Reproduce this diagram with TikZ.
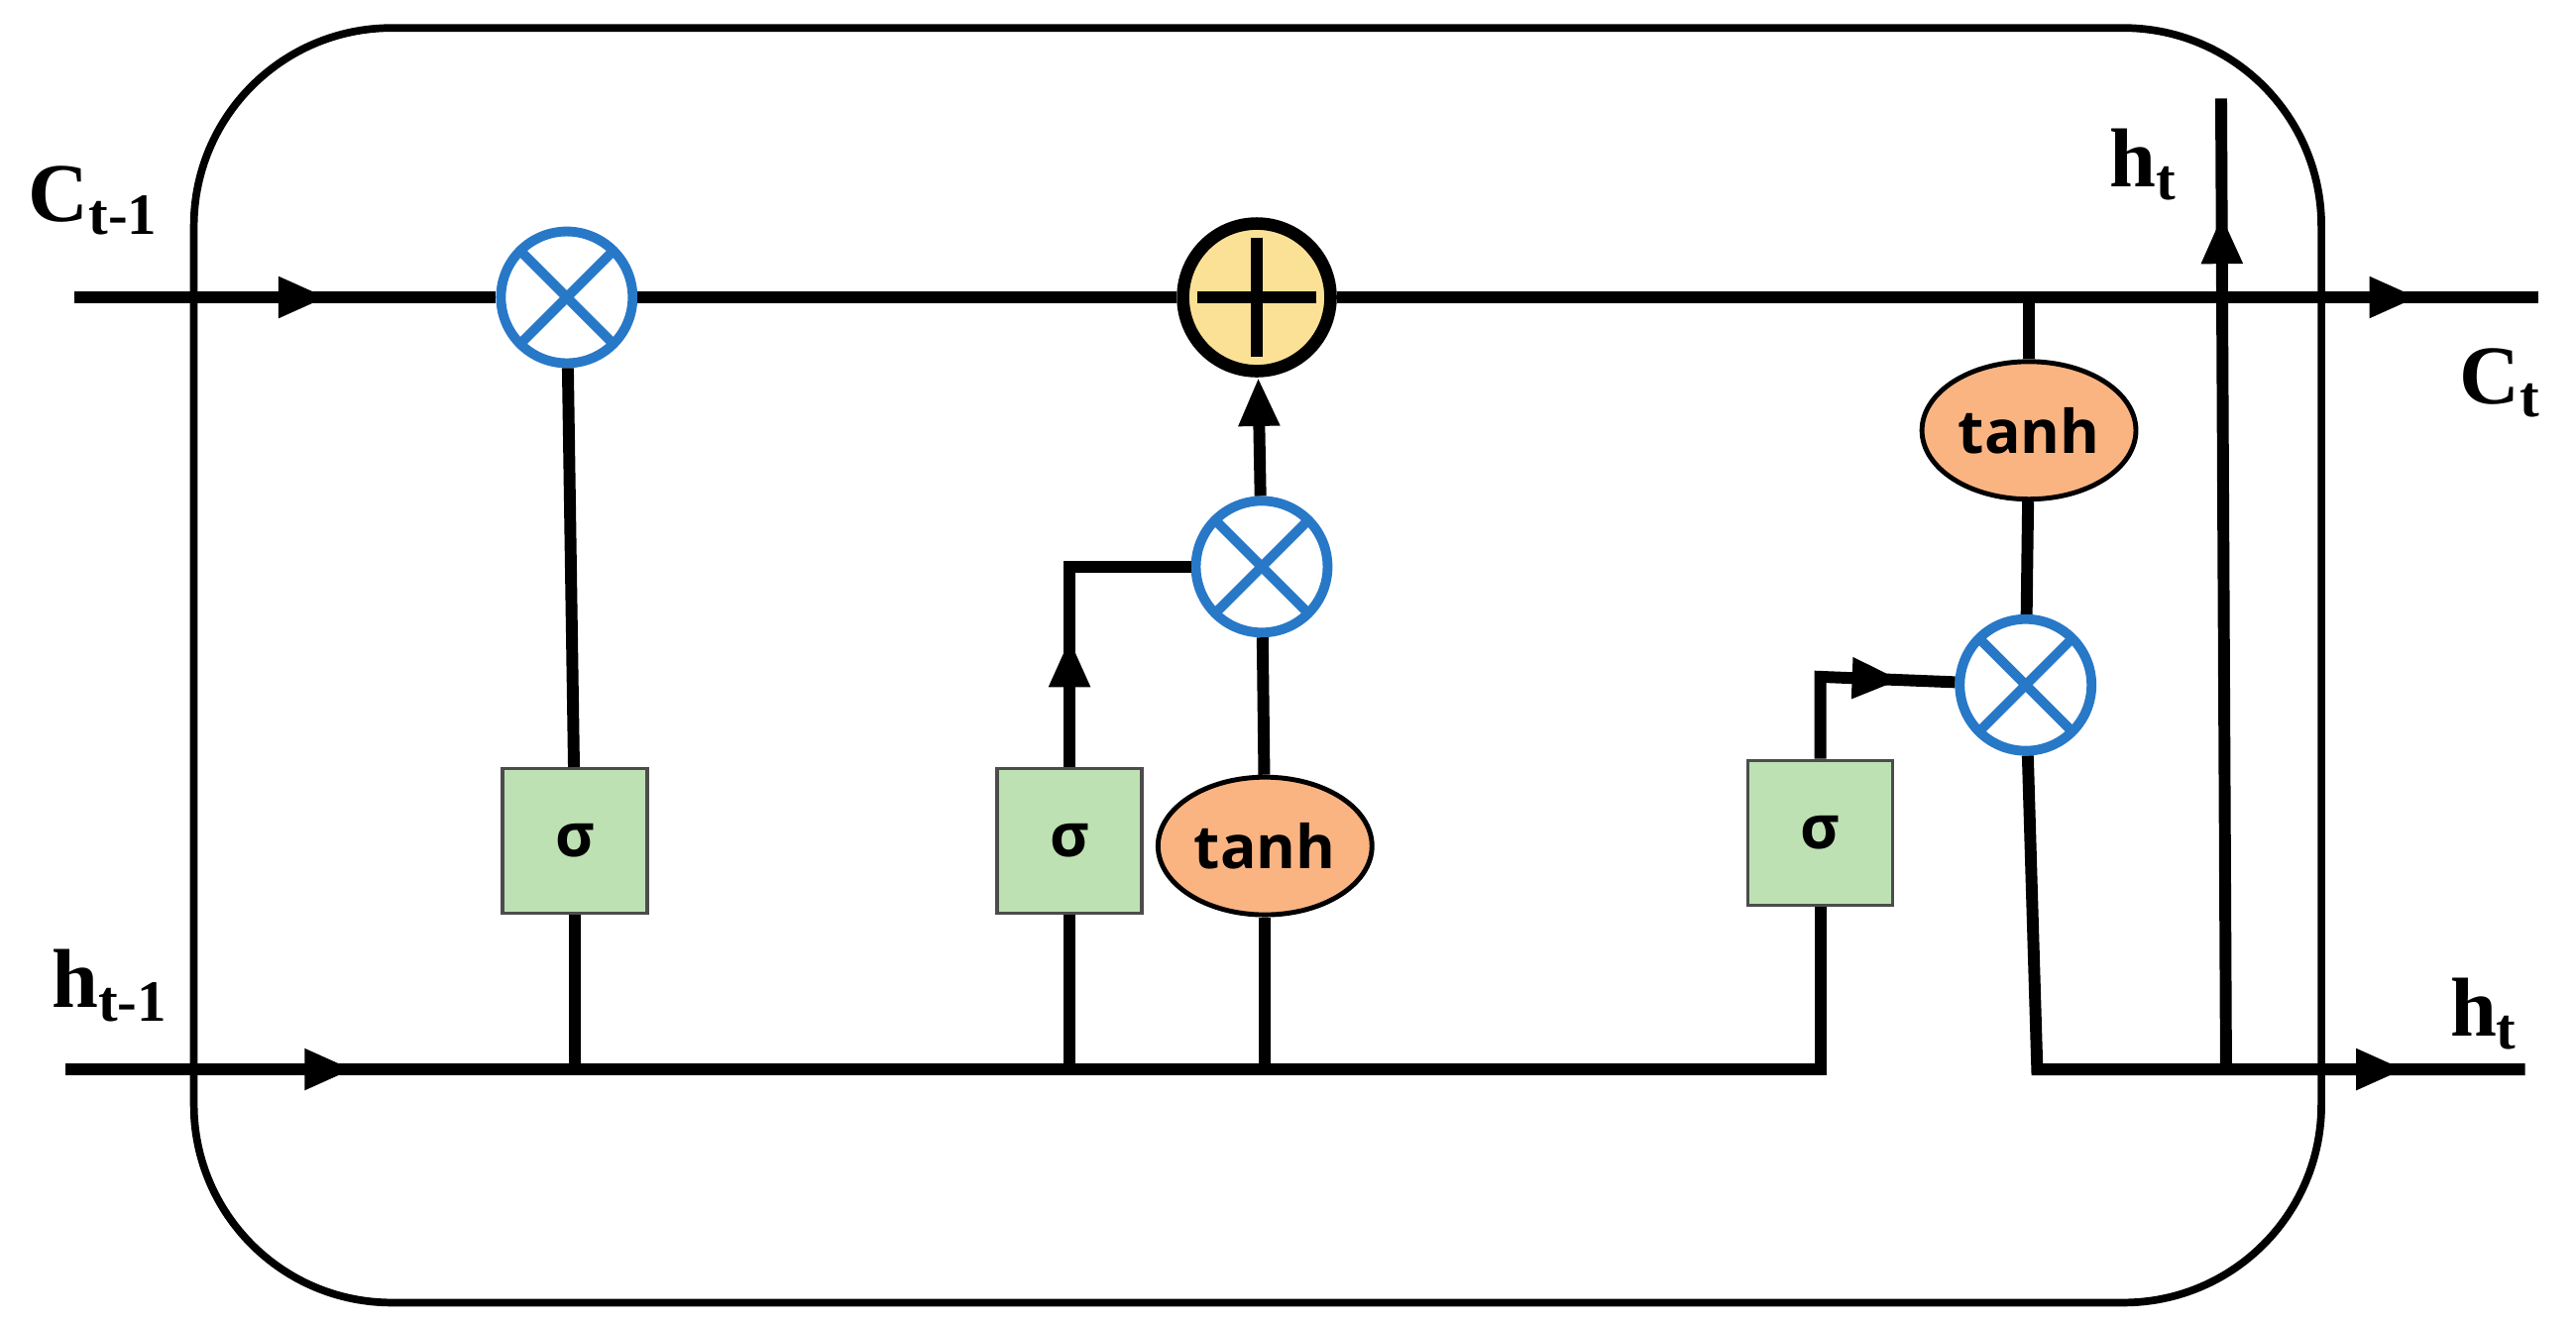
\documentclass[tikz,border=0pt]{standalone}
\usepackage{fontspec}
\setmainfont{Liberation Serif}
\newfontfamily\gatefont{Open Sans}
\usetikzlibrary{decorations.markings,arrows.meta,shapes.geometric}
\definecolor{gateblue}{RGB}{40,120,200}
\definecolor{boxgreen}{RGB}{190,225,180}
\definecolor{tanhorange}{RGB}{250,180,130}
\definecolor{plusyellow}{RGB}{250,225,150}
\begin{document}
\begin{tikzpicture}[x=0.01658cm, y=-0.01658cm, line width=3.4pt,
  >={Triangle[length=14pt,width=11pt]},
  mult/.style={circle, draw=gateblue, line width=2.8pt, fill=white, minimum size=1.33cm, inner sep=0pt,
    path picture={\draw[gateblue, line width=2.8pt] (path picture bounding box.north west) -- (path picture bounding box.south east)
      (path picture bounding box.north east) -- (path picture bounding box.south west);}},
  plusop/.style={circle, draw, line width=3.6pt, fill=plusyellow, minimum size=1.49cm, inner sep=0pt,
    path picture={\draw[line width=3.6pt] ([yshift=-4pt]path picture bounding box.north) -- ([yshift=4pt]path picture bounding box.south)
      ([xshift=-4pt]path picture bounding box.east) -- ([xshift=4pt]path picture bounding box.west);}},
  sig/.style={rectangle, draw=black!70, line width=1pt, fill=boxgreen, minimum size=1.46cm, font=\gatefont\bfseries\LARGE},
  act/.style={ellipse, draw, line width=1.4pt, fill=tanhorange, minimum width=2.16cm, minimum height=1.39cm, inner sep=0pt, font=\gatefont\bfseries\LARGE},
  lbl/.style={font=\bfseries\fontsize{24}{28}\selectfont},
  midarrow/.style={postaction={decorate}, decoration={markings, mark=at position #1 with {\arrow{>}}}}]
\useasboundingbox (0,0) rectangle (1568,806);
% --- Cornice ---
\draw[line width=2.2pt, rounded corners=2cm] (118,17) rectangle (1413,793);
% --- Nodi ---
\node[mult] (f) at (345,181) {};
\node[plusop] (add) at (765,181) {};
\node[mult] (i) at (768,345) {};
\node[mult] (o) at (1233,417) {};
\node[sig] (sf) at (350,512) {σ};
\node[sig] (si) at (651,512) {σ};
\node[sig] (so) at (1108,507) {σ};
\node[act] (tc) at (770,515) {tanh};
\node[act] (to) at (1235,262) {tanh};
\coordinate (cin) at (45,181);
\coordinate (cout) at (1545,181);
\coordinate (hin) at (40,651);
\coordinate (hcorner) at (1108,651);
\coordinate (hout) at (1537,651);
\coordinate (obot) at (1240,651);
\coordinate (htop) at (1352,60);
% --- Linea di stato ---
\draw[midarrow=0.6] (cin) -- (f);
\draw (f) -- (add);
\draw[midarrow=0.9] (add) -- (cout);
% --- Linea h ---
\draw[midarrow=0.15] (hin) -- (hcorner) -- (so);
\draw (sf |- hin) -- (sf);
\draw (si |- hin) -- (si);
\draw (tc |- hin) -- (tc);
% --- Porte ---
\draw (sf) -- (f);
\draw[midarrow=0.4] (si.north) -- (si.north |- i) -- (i);
\draw (tc) -- (i);
\draw[->] (i) -- (add);
\draw[midarrow=0.75] (so.north) -- (1108,412) -- (o);
\draw (to |- add) -- (to);
\draw (to) -- (o);
\draw[midarrow=0.85] (o) -- (obot) -- (hout);
\draw[midarrow=0.88] (1355,651) -- (htop);
% --- Etichette ---
\node[lbl] at (57,122) {C\textsubscript{t-1}};
\node[lbl] at (67,600) {h\textsubscript{t-1}};
\node[lbl] at (1305,100) {h\textsubscript{t}};
\node[lbl] at (1522,233) {C\textsubscript{t}};
\node[lbl] at (1512,617) {h\textsubscript{t}};
\end{tikzpicture}
\end{document}
